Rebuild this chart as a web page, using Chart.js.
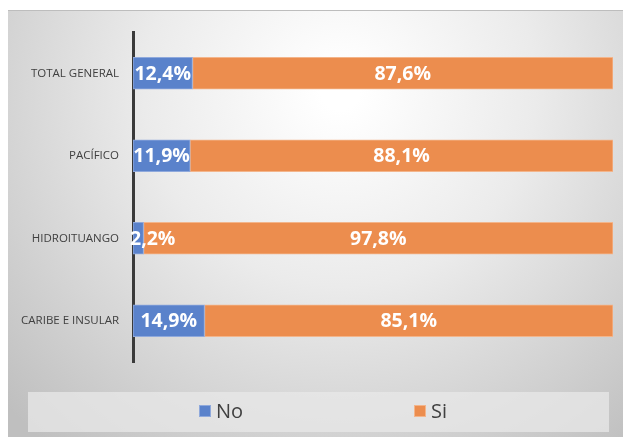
<!DOCTYPE html>
<html>
<head>
<meta charset="utf-8">
<style>
  body { margin: 0; background: #fff; }
  #wrap { width: 623px; height: 437px; }
</style>
</head>
<body>
<div id="wrap"><canvas id="regionChart" width="623" height="437"></canvas></div>

<script src="https://cdn.jsdelivr.net/npm/chart.js"></script>
<script>
  (() => {
    const categories = ['TOTAL GENERAL', 'PACÍFICO', 'HIDROITUANGO', 'CARIBE E INSULAR'];
    const noValues = [12.4, 11.9, 2.2, 14.9];
    const siValues = [87.6, 88.1, 97.8, 85.1];
    const seriesNames = ['No', 'Si'];

    const fmt = v => v.toFixed(1).replace('.', ',') + '%';

    // background panel, radial shading like the office chart
    const backdrop = {
      id: 'backdrop',
      beforeDraw(chart) {
        const c = chart.ctx;
        c.save();
        c.fillStyle = '#ffffff';
        c.fillRect(0, 0, chart.width, chart.height);
        const g = c.createRadialGradient(340, 90, 20, 340, 90, 460);
        g.addColorStop(0, '#ffffff');
        g.addColorStop(0.4, '#ebebeb');
        g.addColorStop(1, '#bfbfbf');
        c.fillStyle = g;
        c.fillRect(8, 10, chart.width - 8, chart.height - 10);
        c.fillStyle = '#bdbdbd';
        c.fillRect(8, 10, chart.width - 8, 1);
        // legend panel
        c.fillStyle = 'rgba(232,232,232,0.75)';
        c.fillRect(28, 392, 581, 40);
        c.restore();
      }
    };

    // value labels inside the segments
    const valueLabels = {
      id: 'valueLabels',
      afterDatasetsDraw(chart) {
        const c = chart.ctx;
        const left = chart.chartArea.left;
        c.save();
        c.font = 'bold 19.5px "Open Sans", sans-serif';
        c.fillStyle = '#ffffff';
        c.textBaseline = 'middle';
        c.textAlign = 'left';
        chart.data.datasets.forEach((ds, di) => {
          chart.getDatasetMeta(di).data.forEach((bar, i) => {
            const txt = fmt(ds.data[i]);
            const w = c.measureText(txt).width;
            const mid = (bar.base + bar.x) / 2;
            let x = mid - w / 2;
            if (x < left - 3) x = left - 3;
            c.fillText(txt, x, bar.y + 1);
          });
        });
        c.restore();
      }
    };

    // legend drawn in the panel from the dataset names and colours
    const legendRow = {
      id: 'legendRow',
      afterDraw(chart) {
        const c = chart.ctx;
        const xs = [199, 414];
        c.save();
        c.font = '20px "Open Sans", sans-serif';
        c.textBaseline = 'middle';
        chart.data.datasets.forEach((ds, i) => {
          c.fillStyle = ds.backgroundColor;
          c.fillRect(xs[i], 405, 12, 12);
          c.strokeStyle = ds.borderColor;
          c.lineWidth = 1;
          c.strokeRect(xs[i] + 0.5, 405.5, 11, 11);
          c.fillStyle = '#404040';
          c.fillText(ds.label, xs[i] + 17, 412);
        });
        c.restore();
      }
    };

    new Chart(document.getElementById('regionChart'), {
      type: 'bar',
      data: {
        labels: categories,
        datasets: [{
          label: seriesNames[0],
          data: noValues,
          backgroundColor: '#5a82cb',
          borderColor: '#8fa9dc',
          borderWidth: 1,
          borderSkipped: false,
          barThickness: 32
        }, {
          label: seriesNames[1],
          data: siValues,
          backgroundColor: '#ec8d4e',
          borderColor: '#f3b58b',
          borderWidth: 1,
          borderSkipped: false,
          barThickness: 32
        }]
      },
      options: {
        indexAxis: 'y',
        responsive: false,
        animation: false,
        layout: { padding: { top: 32, right: 10, bottom: 75, left: 0 } },
        plugins: {
          legend: { display: false },
          tooltip: { enabled: false }
        },
        scales: {
          x: { stacked: true, min: 0, max: 100, display: false },
          y: {
            stacked: true,
            grid: { display: false },
            border: { display: true, color: '#3a3a3a', width: 3 },
            ticks: {
              color: '#404040',
              font: { family: '"Open Sans", sans-serif', size: 11.5 },
              padding: 6
            },
            afterFit(scale) { scale.width = 133; }
          }
        }
      },
      plugins: [backdrop, valueLabels, legendRow]
    });
  })();
</script>
</body>
</html>
